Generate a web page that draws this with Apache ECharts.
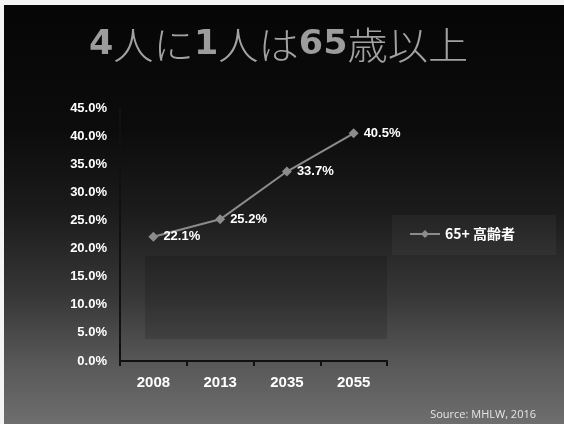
<!DOCTYPE html>
<html>
<head>
<meta charset="utf-8">
<script src="https://cdn.jsdelivr.net/npm/echarts@6/dist/echarts.min.js"></script>
<style>
  html, body { margin: 0; padding: 0; background: #f4f4f4; }
  #chart { width: 564px; height: 424px; }
</style>
</head>
<body>
<div id="chart"></div>
<script>
// Share of population aged 65 and over, Japan
const years = ['2008', '2013', '2035', '2055'];
const elderlyShare = [22.1, 25.2, 33.7, 40.5];
const seriesName = '65+ 高齢者';
const yTicks = { min: 0, max: 45, step: 5 };

const chart = echarts.init(document.getElementById('chart'), null, { renderer: 'canvas' });

const latin = '"Liberation Sans", Arial, sans-serif';
const cjk = '"Noto Sans CJK JP", "Liberation Sans", sans-serif';

chart.setOption({
  backgroundColor: 'transparent',
  animation: false,
  graphic: [
    {
      type: 'rect', z: -10, silent: true,
      shape: { x: 4, y: 5, width: 560, height: 419 },
      style: {
        fill: new echarts.graphic.LinearGradient(0, 0, 0, 1, [
          { offset: 0, color: '#060606' },
          { offset: 0.3, color: '#0c0c0c' },
          { offset: 0.5, color: '#1c1c1c' },
          { offset: 0.7, color: '#383838' },
          { offset: 0.85, color: '#575757' },
          { offset: 1, color: '#6e6e6e' }
        ])
      }
    },
    // darker panel behind the lower plot area
    {
      type: 'rect', z: -9, silent: true,
      shape: { x: 145, y: 256, width: 242, height: 83 },
      style: { fill: 'rgba(0,0,0,0.14)' }
    },
    // lighter band behind the legend
    {
      type: 'rect', z: -9, silent: true,
      shape: { x: 392, y: 215, width: 164, height: 40 },
      style: { fill: 'rgba(255,255,255,0.04)' }
    },
    // headline: wide bold digits mixed with light kana/kanji
    {
      type: 'text', x: 89, y: 26, scaleX: 1.06,
      style: {
        text: '{b|4}{l|人に}{b|1}{l|人は}{b|65}{l|歳以上}',
        textVerticalAlign: 'top',
        rich: {
          b: { fontFamily: '"DejaVu Sans", sans-serif', fontWeight: 'bold', fontSize: 33, fill: '#9c9c9c' },
          l: { fontFamily: cjk, fontWeight: 300, fontSize: 38, fill: '#a2a2a2' }
        }
      }
    },
    {
      type: 'text', right: 28, bottom: 4,
      style: {
        text: 'Source: MHLW, 2016',
        fontFamily: '"Open Sans", sans-serif',
        fontSize: 11,
        fill: '#e6e6e6'
      }
    }
  ],
  grid: { left: 120, right: 177, top: 108, bottom: 63, containLabel: false },
  legend: {
    left: 404, top: 222,
    itemWidth: 30, itemHeight: 10,
    textStyle: { color: '#ffffff', fontFamily: cjk, fontSize: 14, fontWeight: 'bold' },
    data: [seriesName]
  },
  xAxis: {
    type: 'category',
    data: years,
    axisLine: { lineStyle: { color: '#111111', width: 2 } },
    axisTick: { show: true, length: 5, lineStyle: { color: '#111111', width: 2 } },
    axisLabel: { color: '#ffffff', fontFamily: latin, fontWeight: 'bold', fontSize: 15, margin: 14 }
  },
  yAxis: {
    type: 'value',
    min: yTicks.min, max: yTicks.max, interval: yTicks.step,
    axisLine: { show: true, lineStyle: { color: '#111111', width: 2 } },
    axisTick: { show: false },
    splitLine: { show: false },
    axisLabel: {
      color: '#ffffff', fontFamily: latin, fontWeight: 'bold', fontSize: 13, margin: 13,
      formatter: v => v.toFixed(1) + '%'
    }
  },
  series: [{
    name: seriesName,
    type: 'line',
    data: elderlyShare,
    symbol: 'diamond',
    symbolSize: 10,
    lineStyle: { color: '#8c8c8c', width: 2 },
    itemStyle: { color: '#8c8c8c' },
    label: {
      show: true, position: 'right', distance: 5,
      color: '#ffffff', fontFamily: latin, fontWeight: 'bold', fontSize: 13,
      formatter: p => p.value.toFixed(1) + '%'
    }
  }]
});
</script>
</body>
</html>
